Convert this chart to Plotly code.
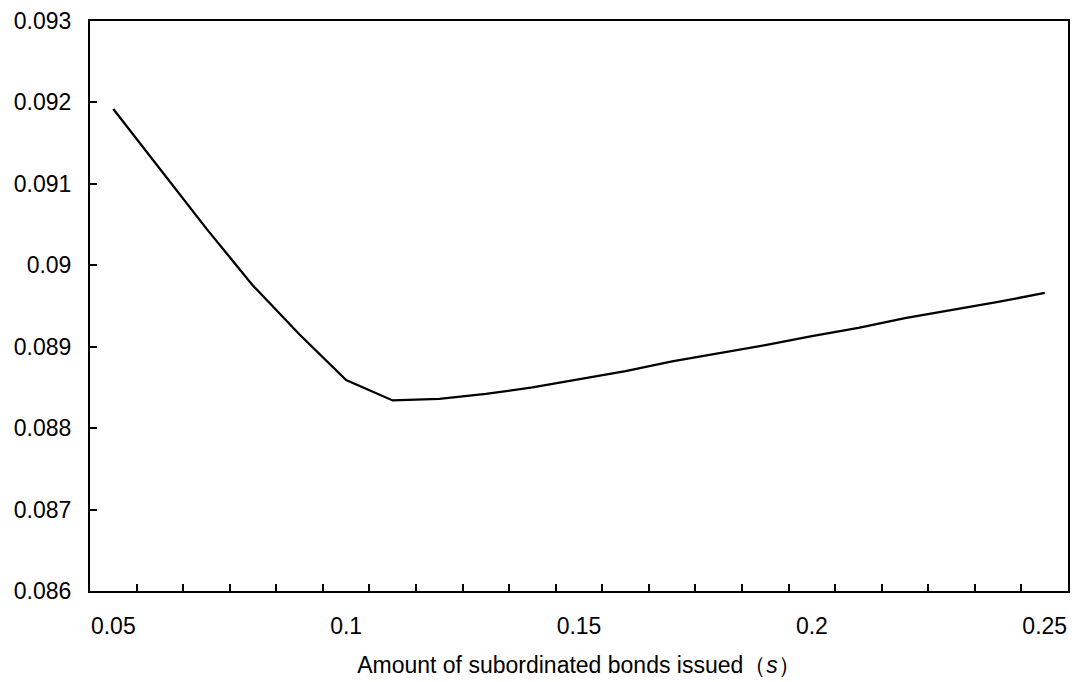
import plotly.graph_objects as go

# Amount of subordinated bonds issued (s)
s_values = [0.05, 0.06, 0.07, 0.08, 0.09, 0.10, 0.11, 0.12, 0.13, 0.14, 0.15,
            0.16, 0.17, 0.18, 0.19, 0.20, 0.21, 0.22, 0.23, 0.24, 0.25]
# Resulting rate
rate_values = [0.09192, 0.09118, 0.09045, 0.08975, 0.08915, 0.08859, 0.08834,
               0.08836, 0.08842, 0.08850, 0.08860, 0.08870, 0.08882, 0.08892,
               0.08902, 0.08913, 0.08923, 0.08935, 0.08945, 0.08955, 0.08966]

x_tick_vals = [0.05, 0.10, 0.15, 0.20, 0.25]
x_tick_text = ["0.05", "0.1", "0.15", "0.2", "0.25"]
y_tick_vals = [0.086, 0.087, 0.088, 0.089, 0.090, 0.091, 0.092, 0.093]
y_tick_text = ["0.086", "0.087", "0.088", "0.089", "0.09", "0.091", "0.092", "0.093"]

step = s_values[1] - s_values[0]
x_lo = s_values[0] - step / 2
x_hi = s_values[-1] + step / 2
# tick marks on the boundaries between categories
boundaries = [round(v + step / 2, 4) for v in s_values[:-1]]

font_family = "Liberation Sans, Arial, sans-serif"
font_size = 23

fig = go.Figure(
    go.Scatter(
        x=s_values,
        y=rate_values,
        mode="lines",
        line=dict(color="black", width=2.3),
        showlegend=False,
        hoverinfo="skip",
    )
)

fig.update_layout(
    width=1078,
    height=682,
    margin=dict(l=90, r=8, t=20, b=90),
    paper_bgcolor="white",
    plot_bgcolor="white",
    font=dict(family=font_family, size=font_size, color="black"),
)

fig.update_xaxes(
    range=[x_lo, x_hi],
    tickvals=x_tick_vals,
    ticktext=x_tick_text,
    ticks="",
    showgrid=False,
    zeroline=False,
    showline=True,
    linecolor="black",
    linewidth=2,
    mirror=True,
    ticklabelstandoff=13,
    minor=dict(
        tickvals=boundaries,
        ticks="inside",
        ticklen=7,
        tickwidth=2,
        tickcolor="black",
        showgrid=False,
    ),
    title=dict(
        text="Amount of subordinated bonds issued（<i>s</i>）",
        font=dict(family=font_family, size=font_size, color="black"),
        standoff=19,
    ),
)

fig.update_yaxes(
    range=[0.086, 0.093],
    tickvals=y_tick_vals,
    ticktext=y_tick_text,
    ticks="inside",
    ticklen=7,
    tickwidth=2,
    tickcolor="black",
    showgrid=False,
    zeroline=False,
    showline=True,
    linecolor="black",
    linewidth=2,
    mirror=True,
    ticklabelstandoff=12,
)

fig.write_html("out.html")
